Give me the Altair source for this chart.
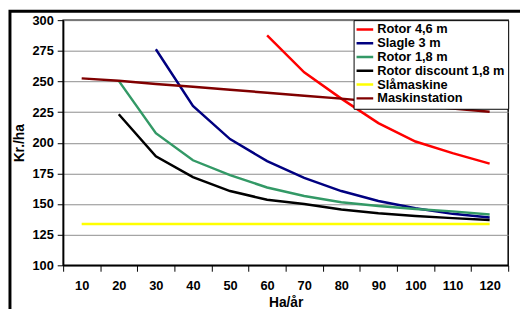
import altair as alt
import pandas as pd

categories = ["10", "20", "30", "40", "50", "60", "70", "80", "90", "100", "110", "120"]
series_names = ["Rotor 4,6 m", "Slagle 3 m", "Rotor 1,8 m", "Rotor discount 1,8 m", "Slåmaskine", "Maskinstation"]
series_colors = ["#FF0000", "#000080", "#339966", "#000000", "#FFFF00", "#800000"]

rotor46 = [None, None, None, None, None, 287.5, 257.5, 236, 216, 201, 191.5, 183]
slagle3 = [None, None, 276.3, 230, 203, 185, 171.4, 160.6, 152.5, 146.5, 142, 139]
rotor18 = [None, 250.5, 207.8, 185.7, 173.6, 163.5, 156.6, 151.5, 148.4, 146, 144, 141.5]
rotor_disc = [None, 223.2, 189, 172, 160.6, 153.5, 150, 145.5, 142.5, 140.2, 138.5, 137]
slaamaskine = [133.7] * 12
maskinstation = [252.5, 250.5, 248, 245.7, 243.3, 240.8, 238.4, 236, 233.2, 230.7, 228, 225.3]

all_series = [rotor46, slagle3, rotor18, rotor_disc, slaamaskine, maskinstation]

rows = []
for name, vals in zip(series_names, all_series):
    for c, v in zip(categories, vals):
        if v is not None:
            rows.append({"Ha": c, "Kr": v, "Serie": name})
df = pd.DataFrame(rows)

FONT = "Liberation Sans"

lines = alt.Chart(df).mark_line(strokeWidth=2.5, clip=True).encode(
    x=alt.X("Ha:O", sort=categories, bandPosition=0.5,
            scale=alt.Scale(type="band", domain=categories, paddingInner=0, paddingOuter=0),
            axis=alt.Axis(title="Ha/år", tickBand="extent", grid=False, labelAngle=0,
                          tickSize=6, labelPadding=9, titlePadding=3)),
    y=alt.Y("Kr:Q", scale=alt.Scale(domain=[100, 300], nice=False, zero=False),
            axis=alt.Axis(title="Kr./ha", values=[100, 125, 150, 175, 200, 225, 250, 275, 300],
                          tickSize=6, labelPadding=4, titlePadding=6, gridColor="#8c8c8c",
                          gridWidth=1)),
    color=alt.Color("Serie:N", sort=series_names,
                    scale=alt.Scale(domain=series_names, range=series_colors),
                    legend=alt.Legend(title=None, orient="top-right", offset=0,
                                      symbolType="M-2.6,0H2.6", symbolStrokeWidth=2.5,
                                      symbolSize=64, clipHeight=12.9,
                                      labelOffset=8, rowPadding=0, padding=3,
                                      strokeColor="black", fillColor="white",
                                      labelFontSize=13, labelFontWeight="bold", labelFont=FONT,
                                      labelColor="black", labelLimit=300)),
    order=alt.Order("Serie:N"),
)

frame = alt.Chart(alt.Data(values=[{"a": 1}])).mark_rect(
    fill=None, stroke="black", strokeWidth=3, clip=False
).encode(
    x=alt.value(-54), x2=alt.value(470), y=alt.value(-9), y2=alt.value(300)
)

chart = alt.layer(lines, frame).properties(
    width=452, height=249,
    autosize=alt.AutoSizeParams(type="none"),
    padding={"left": 56, "top": 10, "right": 12, "bottom": 42},
).configure_view(
    stroke="black", strokeWidth=1.5
).configure_axis(
    labelFont=FONT, titleFont=FONT, labelFontSize=13, titleFontSize=14,
    labelFontWeight="bold", titleFontWeight="bold",
    labelColor="black", titleColor="black",
    domainColor="black", tickColor="black", domainWidth=1.5, tickWidth=1,
)

chart.save("out.html", embed_options={"renderer": "svg", "actions": False})
